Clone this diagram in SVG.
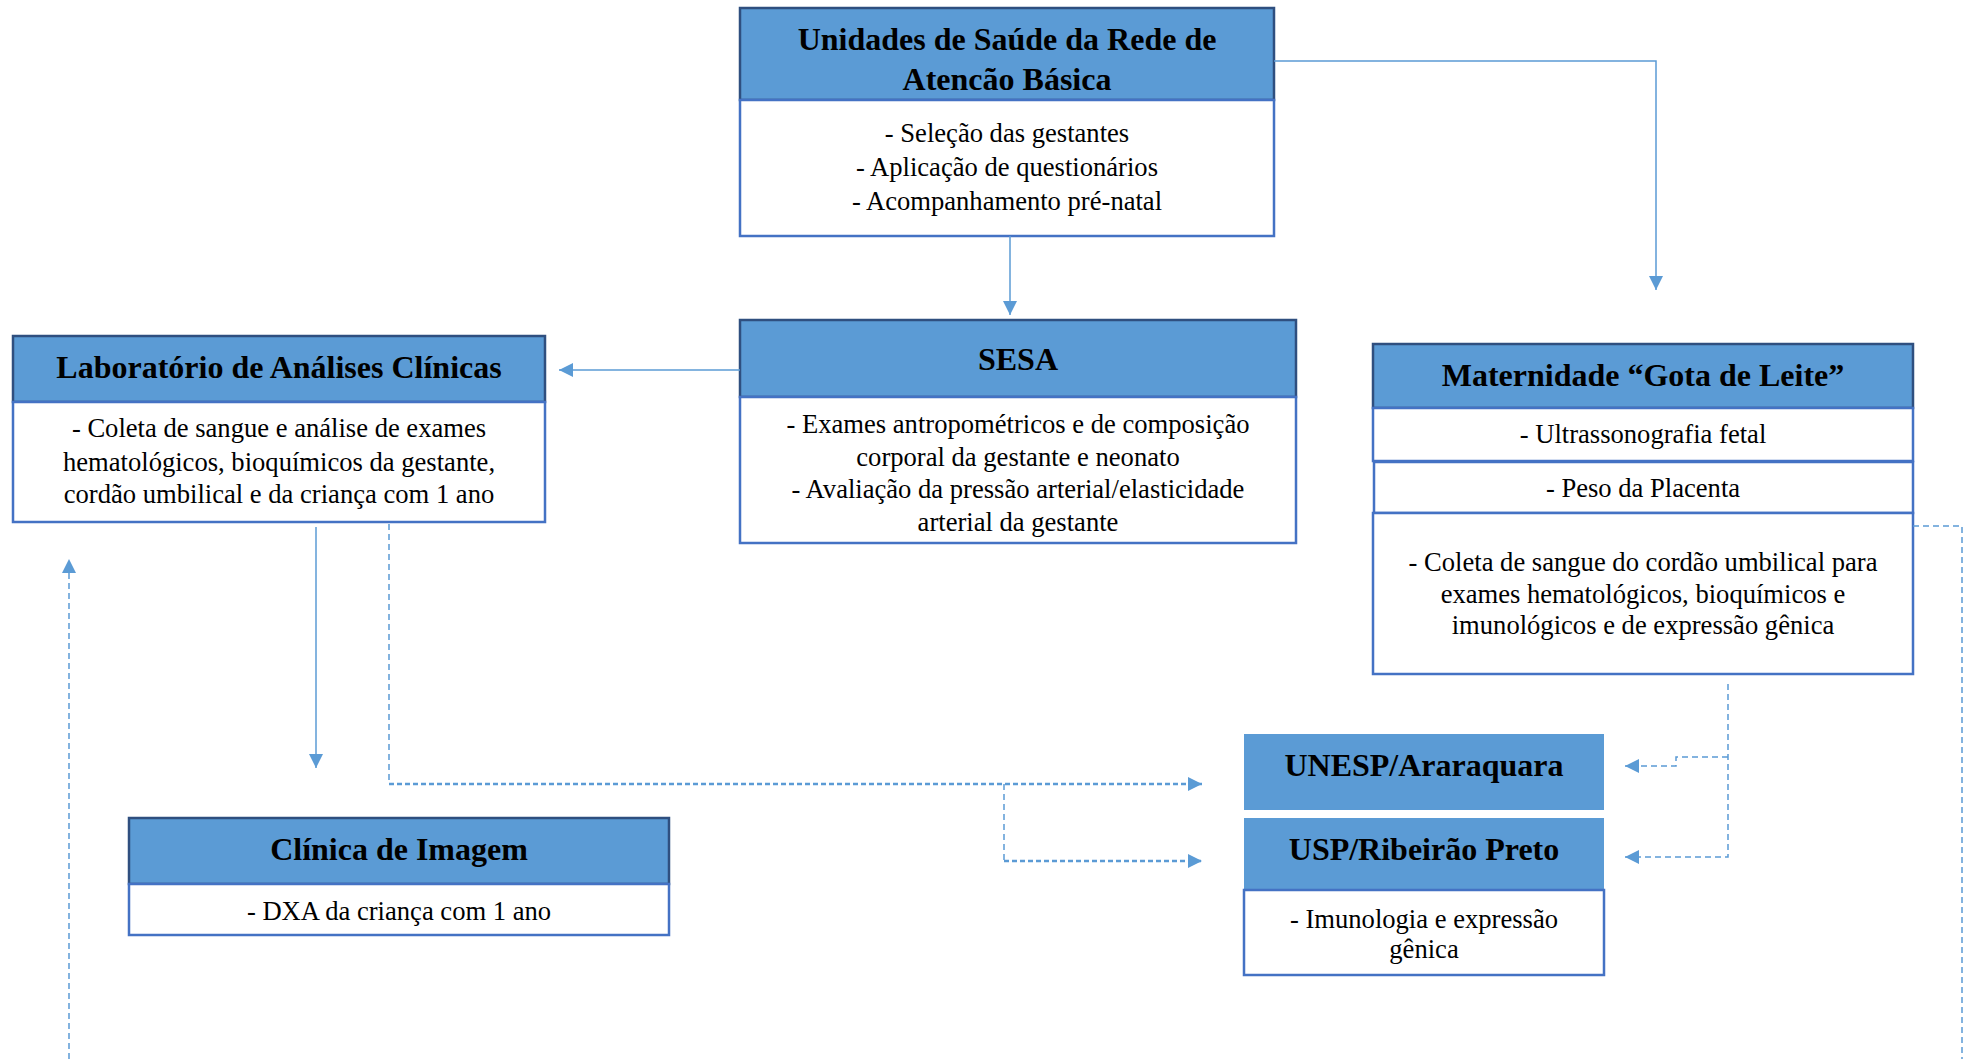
<svg xmlns="http://www.w3.org/2000/svg" width="1968" height="1059" viewBox="0 0 1968 1059">
<defs>
<marker id="ah" viewBox="0 0 14 14" refX="14" refY="7" markerWidth="14" markerHeight="14" markerUnits="userSpaceOnUse" orient="auto">
<path d="M0,0 L14,7 L0,14 Z" fill="#5B9BD5"/>
</marker>
<style>
.hd{fill:#5B9BD5;stroke:#2F4F7F;stroke-width:2.5}
.hf{fill:#5B9BD5}
.bd{fill:#FFFFFF;stroke:#4472C4;stroke-width:2.5}
.t{font-weight:bold;font-size:32px;fill:#000;text-anchor:middle}
.b{font-size:26.6px;fill:#000;text-anchor:middle}
.c{fill:none;stroke:#5B9BD5;stroke-width:1.5}
.d{fill:none;stroke:#5B9BD5;stroke-width:1.5;stroke-dasharray:6 4}
.dd{fill:none;stroke:#5B9BD5;stroke-width:2.5;stroke-dasharray:5 3}
</style>
</defs>
<rect width="1968" height="1059" fill="#FFFFFF"/>
<g font-family="Liberation Serif, Times New Roman, serif">
<g id="unidades">
<rect class="hd" x="740" y="8" width="534" height="92"/>
<rect class="bd" x="740" y="100" width="534" height="136"/>
<text class="t" x="1007" y="50">Unidades de Saúde da Rede de</text>
<text class="t" x="1007" y="90">Atencão Básica</text>
<text class="b" x="1007" y="142">- Seleção das gestantes</text>
<text class="b" x="1007" y="176">- Aplicação de questionários</text>
<text class="b" x="1007" y="210">- Acompanhamento pré-natal</text>
</g>

<g id="sesa">
<rect class="hd" x="740" y="320" width="556" height="77"/>
<rect class="bd" x="740" y="397" width="556" height="146"/>
<text class="t" x="1018" y="370">SESA</text>
<text class="b" x="1018" y="433">- Exames antropométricos e de composição</text>
<text class="b" x="1018" y="466">corporal da gestante e neonato</text>
<text class="b" x="1018" y="498">- Avaliação da pressão arterial/elasticidade</text>
<text class="b" x="1018" y="531">arterial da gestante</text>
</g>

<g id="laboratorio">
<rect class="hd" x="13" y="336" width="532" height="66"/>
<rect class="bd" x="13" y="402" width="532" height="120"/>
<text class="t" x="279" y="378">Laboratório de Análises Clínicas</text>
<text class="b" x="279" y="437">- Coleta de sangue e análise de exames</text>
<text class="b" x="279" y="471">hematológicos, bioquímicos da gestante,</text>
<text class="b" x="279" y="503">cordão umbilical e da criança com 1 ano</text>
</g>

<g id="clinica">
<rect class="hd" x="129" y="818" width="540" height="66"/>
<rect class="bd" x="129" y="884" width="540" height="51"/>
<text class="t" x="399" y="860">Clínica de Imagem</text>
<text class="b" x="399" y="920">- DXA da criança com 1 ano</text>
</g>

<g id="maternidade">
<rect class="hd" x="1373" y="344" width="540" height="64"/>
<rect class="bd" x="1373" y="408" width="540" height="53"/>
<rect class="bd" x="1374" y="462" width="539" height="51"/>
<rect class="bd" x="1373" y="513" width="540" height="161"/>
<text class="t" x="1643" y="386">Maternidade “Gota de Leite”</text>
<text class="b" x="1643" y="443">- Ultrassonografia fetal</text>
<text class="b" x="1643" y="497">- Peso da Placenta</text>
<text class="b" x="1643" y="571">- Coleta de sangue do cordão umbilical para</text>
<text class="b" x="1643" y="603">exames hematológicos, bioquímicos e</text>
<text class="b" x="1643" y="634">imunológicos e de expressão gênica</text>
</g>

<g id="unesp">
<rect class="hf" x="1244" y="734" width="360" height="76"/>
<text class="t" x="1424" y="776">UNESP/Araraquara</text>
</g>

<g id="usp">
<rect class="hf" x="1244" y="818" width="360" height="72"/>
<rect class="bd" x="1244" y="890" width="360" height="85"/>
<text class="t" x="1424" y="860">USP/Ribeirão Preto</text>
<text class="b" x="1424" y="928">- Imunologia e expressão</text>
<text class="b" x="1424" y="958">gênica</text>
</g>
</g>
<g id="connectors">
<path class="c" d="M1010,236 L1010,315" marker-end="url(#ah)"/>
<path class="c" d="M1274,61 L1656,61 L1656,290" marker-end="url(#ah)"/>
<path class="c" d="M740,370 L559,370" marker-end="url(#ah)"/>
<path class="c" d="M316,527 L316,768" marker-end="url(#ah)"/>
<path class="d" d="M389,524 L389,784"/>
<path class="dd" d="M389,784 L1202,784" marker-end="url(#ah)"/>
<path class="d" d="M1004,784 L1004,861"/>
<path class="dd" d="M1004,861 L1202,861" marker-end="url(#ah)"/>
<path class="d" d="M69,1059 L69,559" marker-end="url(#ah)"/>
<path class="d" d="M1728,684 L1728,857 L1625,857" marker-end="url(#ah)"/>
<path class="d" d="M1728,757 L1676,757 L1676,766 L1625,766" marker-end="url(#ah)"/>
<path class="d" d="M1913,526 L1962,526 L1962,1059"/>
</g>
</svg>
